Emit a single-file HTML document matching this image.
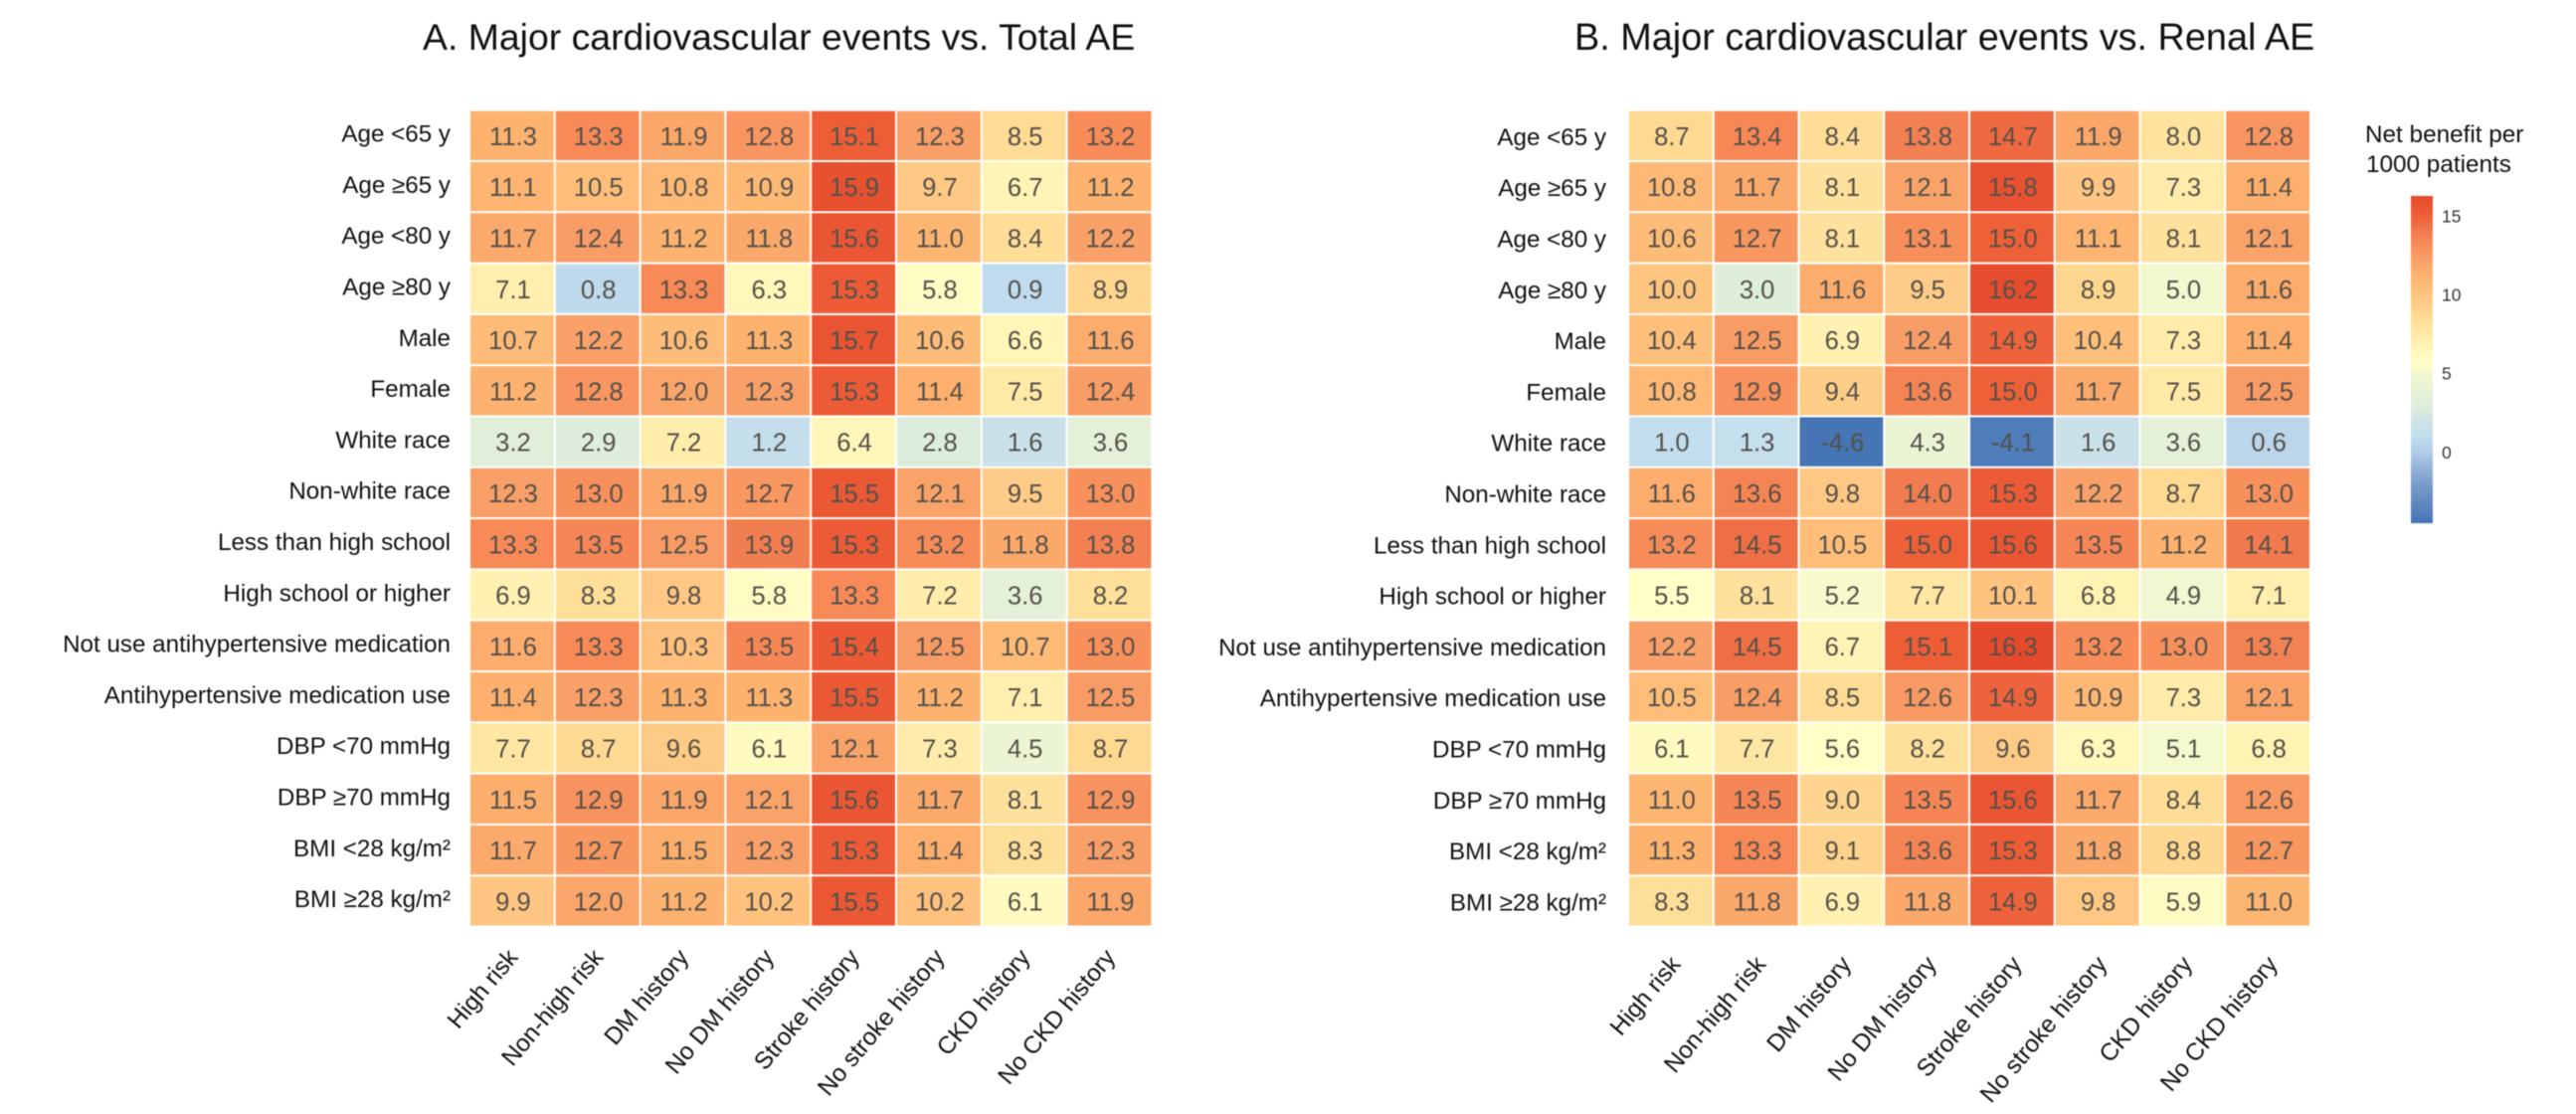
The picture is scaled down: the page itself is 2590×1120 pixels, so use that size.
<!DOCTYPE html>
<html lang="en">
<head>
<meta charset="utf-8">
<title>Net benefit heatmaps</title>
<style>
  html, body { margin: 0; padding: 0; background: #fff; }
  svg { display: block; font-family: "Liberation Sans", Arial, sans-serif; filter: blur(0.45px); }
</style>
</head>
<body>
<svg id="figure" xmlns="http://www.w3.org/2000/svg" width="2590" height="1120" viewBox="0 0 2590 1120">
  <defs>
    <linearGradient id="legendGradient" x1="0" y1="1" x2="0" y2="0"></linearGradient>
  </defs>
  <rect x="0" y="0" width="2590" height="1120" fill="#ffffff"/>
  <text x="425" y="50" font-size="37.4" fill="#111">A. Major cardiovascular events vs. Total AE</text>
  <text x="1583" y="50" font-size="37.85" fill="#111">B. Major cardiovascular events vs. Renal AE</text>
  <g id="panelA"></g>
  <g id="panelB"></g>
  <g id="legend">
    <text x="2378" y="143" font-size="24.3" fill="#111">Net benefit per</text>
    <text x="2379" y="173" font-size="24.3" fill="#111">1000 patients</text>
  </g>
</svg>
<script>
var rowLabels = ["Age <65 y", "Age ≥65 y", "Age <80 y", "Age ≥80 y", "Male", "Female", "White race", "Non-white race", "Less than high school", "High school or higher", "Not use antihypertensive medication", "Antihypertensive medication use", "DBP <70 mmHg", "DBP ≥70 mmHg", "BMI <28 kg/m²", "BMI ≥28 kg/m²"];
var colLabels = ["High risk", "Non-high risk", "DM history", "No DM history", "Stroke history", "No stroke history", "CKD history", "No CKD history"];
var panelAValues = [
  [11.3, 13.3, 11.9, 12.8, 15.1, 12.3, 8.5, 13.2],
  [11.1, 10.5, 10.8, 10.9, 15.9, 9.7, 6.7, 11.2],
  [11.7, 12.4, 11.2, 11.8, 15.6, 11.0, 8.4, 12.2],
  [7.1, 0.8, 13.3, 6.3, 15.3, 5.8, 0.9, 8.9],
  [10.7, 12.2, 10.6, 11.3, 15.7, 10.6, 6.6, 11.6],
  [11.2, 12.8, 12.0, 12.3, 15.3, 11.4, 7.5, 12.4],
  [3.2, 2.9, 7.2, 1.2, 6.4, 2.8, 1.6, 3.6],
  [12.3, 13.0, 11.9, 12.7, 15.5, 12.1, 9.5, 13.0],
  [13.3, 13.5, 12.5, 13.9, 15.3, 13.2, 11.8, 13.8],
  [6.9, 8.3, 9.8, 5.8, 13.3, 7.2, 3.6, 8.2],
  [11.6, 13.3, 10.3, 13.5, 15.4, 12.5, 10.7, 13.0],
  [11.4, 12.3, 11.3, 11.3, 15.5, 11.2, 7.1, 12.5],
  [7.7, 8.7, 9.6, 6.1, 12.1, 7.3, 4.5, 8.7],
  [11.5, 12.9, 11.9, 12.1, 15.6, 11.7, 8.1, 12.9],
  [11.7, 12.7, 11.5, 12.3, 15.3, 11.4, 8.3, 12.3],
  [9.9, 12.0, 11.2, 10.2, 15.5, 10.2, 6.1, 11.9]
];
var panelBValues = [
  [8.7, 13.4, 8.4, 13.8, 14.7, 11.9, 8.0, 12.8],
  [10.8, 11.7, 8.1, 12.1, 15.8, 9.9, 7.3, 11.4],
  [10.6, 12.7, 8.1, 13.1, 15.0, 11.1, 8.1, 12.1],
  [10.0, 3.0, 11.6, 9.5, 16.2, 8.9, 5.0, 11.6],
  [10.4, 12.5, 6.9, 12.4, 14.9, 10.4, 7.3, 11.4],
  [10.8, 12.9, 9.4, 13.6, 15.0, 11.7, 7.5, 12.5],
  [1.0, 1.3, -4.6, 4.3, -4.1, 1.6, 3.6, 0.6],
  [11.6, 13.6, 9.8, 14.0, 15.3, 12.2, 8.7, 13.0],
  [13.2, 14.5, 10.5, 15.0, 15.6, 13.5, 11.2, 14.1],
  [5.5, 8.1, 5.2, 7.7, 10.1, 6.8, 4.9, 7.1],
  [12.2, 14.5, 6.7, 15.1, 16.3, 13.2, 13.0, 13.7],
  [10.5, 12.4, 8.5, 12.6, 14.9, 10.9, 7.3, 12.1],
  [6.1, 7.7, 5.6, 8.2, 9.6, 6.3, 5.1, 6.8],
  [11.0, 13.5, 9.0, 13.5, 15.6, 11.7, 8.4, 12.6],
  [11.3, 13.3, 9.1, 13.6, 15.3, 11.8, 8.8, 12.7],
  [8.3, 11.8, 6.9, 11.8, 14.9, 9.8, 5.9, 11.0]
];
var legendTicks = [0, 5, 10, 15];
var legendDomain = [-4.5, 16.3];
var colorDomain = [-4.6, -2, 0, 1, 2, 3, 4.3, 5, 5.5, 6.7, 8.5, 9.7, 11.3, 12.3, 13.3, 14, 14.5, 15, 16.3];
var colorRange = ["#4575b4", "#7a9ccc", "#b0cce6", "#c2ddee", "#d0e4e6", "#dfeedb", "#eaf4d4", "#f2f8cf", "#ffffc8", "#fff4b5", "#fedc95", "#fec985", "#fdb26e", "#f99f68", "#f88a57", "#f07c50", "#ee6e45", "#ee6038", "#e54a2d"];

var SVG_NS = "http://www.w3.org/2000/svg";

function hexToRgb(hex) {
  return [parseInt(hex.slice(1, 3), 16), parseInt(hex.slice(3, 5), 16), parseInt(hex.slice(5, 7), 16)];
}

function colorScale(v) {
  var n = colorDomain.length;
  if (v <= colorDomain[0]) return colorRange[0];
  if (v >= colorDomain[n - 1]) return colorRange[n - 1];
  for (var k = 1; k < n; k++) {
    if (v <= colorDomain[k]) {
      var t = (v - colorDomain[k - 1]) / (colorDomain[k] - colorDomain[k - 1]);
      var a = hexToRgb(colorRange[k - 1]);
      var b = hexToRgb(colorRange[k]);
      return "rgb(" + Math.round(a[0] + (b[0] - a[0]) * t) + "," + Math.round(a[1] + (b[1] - a[1]) * t) + "," + Math.round(a[2] + (b[2] - a[2]) * t) + ")";
    }
  }
  return colorRange[n - 1];
}

function drawPanel(group, values, left, colW, top, rowH, cfg) {
  function xAxis(j) { return left + j * colW; }
  function yAxis(i) { return top + i * rowH; }
  var cellW = colW - 2;
  var cellH = rowH - 2;

  rowLabels.forEach(function (label, i) {
    var t = document.createElementNS(SVG_NS, "text");
    
    
    t.setAttribute("x", cfg.labelRight);
    t.setAttribute("y", cfg.labelTop + i * rowH);
    t.setAttribute("text-anchor", "end");
    t.setAttribute("font-size", "24.2");
    t.setAttribute("fill", "#111");
    t.textContent = label;
    group.appendChild(t);
  });

  values.forEach(function (row, i) {
    row.forEach(function (v, j) {
      var r = document.createElementNS(SVG_NS, "rect");
      
      
      r.setAttribute("x", xAxis(j));
      r.setAttribute("y", yAxis(i));
      r.setAttribute("width", cellW);
      r.setAttribute("height", cellH);
      r.setAttribute("fill", colorScale(v));
      group.appendChild(r);

      var t = document.createElementNS(SVG_NS, "text");
      
      
      t.setAttribute("x", xAxis(j) + cellW / 2 + 1);
      t.setAttribute("y", yAxis(i) + cellH / 2 + 9.5);
      t.setAttribute("text-anchor", "middle");
      t.setAttribute("font-size", "25.6");
      t.setAttribute("fill", "#555049");
      t.textContent = v.toFixed(1);
      group.appendChild(t);
    });
  });

  colLabels.forEach(function (label, j) {
    var t = document.createElementNS(SVG_NS, "text");
    var ax = xAxis(j) + cellW / 2 + cfg.tickDx;
    
    
    t.setAttribute("x", ax);
    t.setAttribute("y", cfg.tickY);
    t.setAttribute("text-anchor", "end");
    t.setAttribute("font-size", "24.4");
    t.setAttribute("fill", "#111");
    t.setAttribute("transform", "rotate(-50 " + ax + " " + cfg.tickY + ")");
    t.textContent = label;
    group.appendChild(t);
  });
}

function drawLegend(group) {
  var barX = 2424, barW = 22, barTop = 197, barBottom = 526;
  function legendAxis(v) {
    return barBottom - (v - legendDomain[0]) / (legendDomain[1] - legendDomain[0]) * (barBottom - barTop);
  }
  var grad = document.getElementById("legendGradient");
  colorDomain.forEach(function (v, k) {
    var offset = (v - legendDomain[0]) / (legendDomain[1] - legendDomain[0]);
    var s = document.createElementNS(SVG_NS, "stop");
    s.setAttribute("offset", Math.max(0, Math.min(1, offset)));
    s.setAttribute("stop-color", colorRange[k]);
    grad.appendChild(s);
  });
  var bar = document.createElementNS(SVG_NS, "rect");
  
  
  bar.setAttribute("x", barX);
  bar.setAttribute("y", barTop);
  bar.setAttribute("width", barW);
  bar.setAttribute("height", barBottom - barTop);
  bar.setAttribute("fill", "url(#legendGradient)");
  group.appendChild(bar);

  legendTicks.forEach(function (tick) {
    var t = document.createElementNS(SVG_NS, "text");
    
    
    t.setAttribute("x", 2455);
    t.setAttribute("y", legendAxis(tick) + 6);
    t.setAttribute("font-size", "17.5");
    t.setAttribute("fill", "#333");
    t.textContent = String(tick);
    group.appendChild(t);
  });
}

drawPanel(document.getElementById("panelA"), panelAValues, 473, 85.8, 111.7, 51.3, { labelRight: 453, labelTop: 142.6, tickDx: 7, tickY: 963 });
drawPanel(document.getElementById("panelB"), panelBValues, 1638, 85.75, 111.7, 51.3, { labelRight: 1615, labelTop: 145.85, tickDx: 11, tickY: 970 });
drawLegend(document.getElementById("legend"));
</script>
</body>
</html>
